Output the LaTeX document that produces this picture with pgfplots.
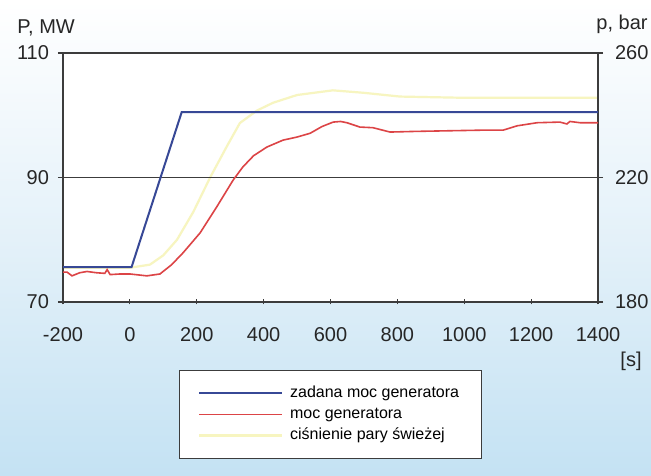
\documentclass[border=0pt]{standalone}
\usepackage{pgfplots}
\pgfplotsset{compat=1.18}
\usepackage{fontspec}
\setmainfont{Liberation Sans}
\definecolor{axiscol}{RGB}{60,60,60}
\definecolor{bluel}{RGB}{55,72,150}
\definecolor{redl}{RGB}{220,68,70}
\definecolor{yell}{RGB}{247,245,192}
\definecolor{bgblue}{RGB}{196,226,243}
\definecolor{bgmid}{RGB}{228,241,249}
\begin{document}
\begin{tikzpicture}
\useasboundingbox (0,0) rectangle (325.5pt,237.5pt);
\shade[top color=white, bottom color=bgblue, middle color=bgmid] (0,0) rectangle (325.5pt,237.5pt);
\pgfplotsset{
  common/.style={
    at={(31.5pt,86.5pt)}, anchor=south west,
    scale only axis, width=267.5pt, height=124.5pt,
    xmin=-200, xmax=1400,
    axis line style={axiscol, line width=0.6pt},
    tick style={axiscol, line width=0.6pt},
    major tick length=2.5pt,
    tick label style={font=\fontsize{10}{12}\selectfont, text=black!85},
    /pgf/number format/assume math mode=true,
    /pgf/number format/.cd, 1000 sep={}, /pgfplots/.cd,
  }
}
% right axis (pressure)
\begin{axis}[common,
  axis background/.style={fill=white},
  ymin=180, ymax=260, ytick={180,220,260},
  axis x line=none, axis y line*=right,
  y tick label style={xshift=2.5pt},
  ytick align=outside,
]
\addplot[yell, line width=1.1pt] coordinates {
(-200,191) (0,191) (60,192) (100,195) (141,200) (190,209) (240,220) (290,230)
(329,237.5) (380,241.5) (428,244) (500,246.5) (607,248) (700,247.2) (808,246)
(1000,245.6) (1200,245.6) (1400,245.6)};
\end{axis}
% left axis (power)
\begin{axis}[common,
  ymin=70, ymax=110, ytick={70,90,110},
  xtick={-200,0,...,1400},
  xtick pos=bottom, ytick pos=left,
  xtick align=center, ytick align=outside,
  x tick label style={yshift=-8pt},
  y tick label style={xshift=-1pt},
  ymajorgrids, grid style={axiscol, line width=0.6pt},
  legend style={at={(axis description cs:0.5,-0.273)}, anchor=north,
    draw=axiscol, line width=0.5pt, fill=white, inner xsep=9pt, inner ysep=7.6pt,
    font=\fontsize{8}{9.6}\selectfont, row sep=2.7pt,
    nodes={inner ysep=0pt, text height=6pt, text depth=1.8pt},
    /tikz/every odd column/.append style={column sep=1.5pt}},
  legend cell align=left,
  legend image code/.code={\draw[#1] (0pt,0pt) -- (41.5pt,0pt);},
]
\addplot[bluel, line width=1pt] coordinates {(-200,75.6) (5,75.6) (155,100.5) (1400,100.5)};
\addlegendentry{zadana moc generatora\hspace{8pt}}
\addplot[redl, line width=0.8pt] coordinates {
(-200,74.8) (-188,74.8) (-173,74.2) (-150,74.7) (-128,74.9) (-100,74.7) (-75,74.6)
(-68,75.2) (-59,74.4) (-30,74.5) (0,74.5) (51,74.2) (90,74.5) (125,76.0) (159,77.9)
(210,81.1) (260,85.3) (309,89.6) (338,91.7) (370,93.5) (410,94.9) (458,96.0)
(500,96.5) (539,97.1) (575,98.2) (608,98.9) (630,99.0) (649,98.8) (688,98.1)
(727,98.0) (778,97.3) (850,97.4) (948,97.5) (1050,97.6) (1116,97.6) (1158,98.3)
(1218,98.8) (1286,98.9) (1307,98.6) (1316,99.0) (1346,98.8) (1400,98.8)};
\addlegendentry{moc generatora}
\addlegendimage{yell, line width=1.1pt}
\addlegendentry{ciśnienie pary świeżej}
\end{axis}
\node[anchor=base west, font=\fontsize{10}{12}\selectfont, text=black!85, inner sep=0pt] at (8.5pt,220.5pt) {P, MW};
\node[anchor=base west, font=\fontsize{10}{12}\selectfont, text=black!85, inner sep=0pt] at (298pt,222.5pt) {p, bar};
\node[anchor=base, font=\fontsize{10}{12}\selectfont, text=black!85, inner sep=0pt] at (315.5pt,54pt) {[s]};
\end{tikzpicture}
\end{document}
